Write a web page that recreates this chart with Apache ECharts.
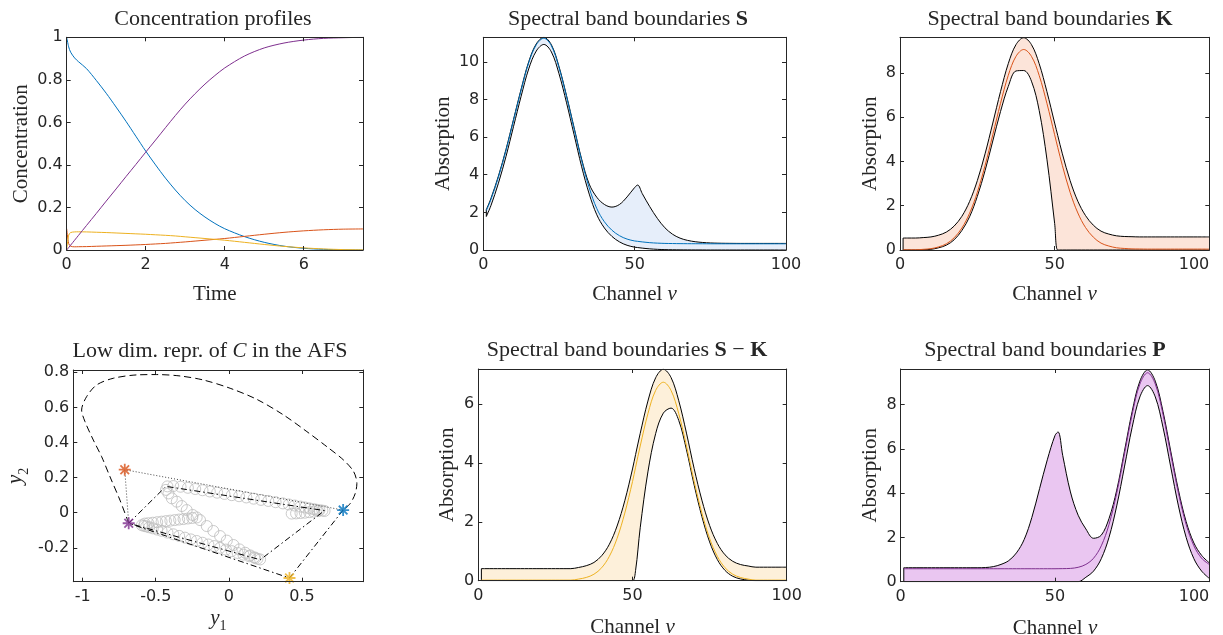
<!DOCTYPE html>
<html><head><meta charset="utf-8">
<script src="https://cdn.jsdelivr.net/npm/echarts@6/dist/echarts.min.js"></script>
<style>html,body{margin:0;padding:0;background:#fff}#c{width:1223px;height:635px}</style>
</head><body><div id="c"></div>
<script>
// ---------- Concentration profiles ----------
const timeT = [0, 0.05, 0.1, 0.2, 0.3, 0.5, 0.75, 1, 1.25, 1.5, 1.75, 2, 2.25, 2.5, 2.75, 3, 3.25, 3.5, 3.75, 4, 4.5, 5, 5.5, 6, 6.5, 7, 7.5];
const concS  = [1, 0.955, 0.93, 0.903, 0.885, 0.853, 0.797, 0.737, 0.672, 0.605, 0.535, 0.465, 0.4, 0.338, 0.282, 0.232, 0.19, 0.155, 0.125, 0.1, 0.063, 0.036, 0.018, 0.008, 0.003, 0.001, 0];
const concK  = [0.1, 0.03, 0.018, 0.015, 0.0155, 0.016, 0.0175, 0.019, 0.0205, 0.022, 0.024, 0.026, 0.0285, 0.031, 0.0345, 0.038, 0.042, 0.046, 0.05, 0.054, 0.064, 0.074, 0.083, 0.09, 0.095, 0.098, 0.099];
const concSK = [0, 0.07, 0.082, 0.085, 0.0855, 0.085, 0.0835, 0.082, 0.08, 0.078, 0.076, 0.074, 0.0715, 0.069, 0.066, 0.062, 0.058, 0.054, 0.05, 0.046, 0.036, 0.026, 0.017, 0.01, 0.005, 0.002, 0.001];
const concP  = [0, 0.0115, 0.023, 0.046, 0.069, 0.115, 0.172, 0.23, 0.287, 0.345, 0.402, 0.46, 0.517, 0.575, 0.632, 0.686, 0.735, 0.78, 0.82, 0.856, 0.912, 0.95, 0.973, 0.987, 0.995, 0.998, 1.0];

// ---------- Spectral bands ----------
const channel = [1, 2.5, 5, 7.5, 10, 12.5, 15, 17.5, 20, 22.5, 25, 27.5, 30, 32.5, 35, 37.5, 40, 42.5, 45, 47.5, 50, 51, 52.5, 55, 57.5, 60, 62.5, 65, 67.5, 70, 72.5, 75, 77.5, 80, 82.5, 85, 87.5, 90, 92.5, 95, 97.5, 100];

const sLow = [1.78, 2.35, 3.55, 4.97, 6.57, 8.17, 9.62, 10.57, 10.92, 10.52, 9.37, 7.82, 6.12, 4.42, 2.97, 1.87, 1.17, 0.72, 0.43, 0.25, 0.15, 0.13, 0.1, 0.06, 0.035, 0.02, 0.013, 0.008, 0.005, 0.003, 0.002, 0, 0, 0, 0, 0, 0, 0, 0, 0, 0, 0];
const sMid = [2.1, 2.68, 3.88, 5.3, 6.9, 8.5, 9.95, 10.9, 11.25, 10.85, 9.7, 8.15, 6.45, 4.75, 3.3, 2.2, 1.5, 1.05, 0.76, 0.58, 0.48, 0.46, 0.43, 0.39, 0.365, 0.35, 0.343, 0.338, 0.335, 0.333, 0.332, 0.33, 0.33, 0.33, 0.33, 0.33, 0.33, 0.33, 0.33, 0.33, 0.33, 0.33];
const sUp  = [2.15, 2.73, 3.93, 5.35, 6.95, 8.55, 10.0, 10.95, 11.3, 10.9, 9.75, 8.2, 6.5, 4.82, 3.5, 2.8, 2.42, 2.28, 2.42, 2.82, 3.32, 3.45, 3.0, 2.3, 1.68, 1.18, 0.84, 0.63, 0.51, 0.44, 0.4, 0.375, 0.362, 0.356, 0.352, 0.35, 0.35, 0.35, 0.35, 0.35, 0.35, 0.35];

const kLow = [0, 0, 0, 0.01, 0.03, 0.1, 0.22, 0.46, 0.88, 1.5, 2.42, 3.58, 4.92, 6.25, 7.38, 8.08, 8.1, 7.62, 6.3, 4.1, 1.2, 0, 0, 0, 0, 0, 0, 0, 0, 0, 0, 0, 0, 0, 0, 0, 0, 0, 0, 0, 0, 0];
const kMid = [0.01, 0.01, 0.01, 0.03, 0.06, 0.14, 0.28, 0.55, 0.99, 1.66, 2.6, 3.81, 5.2, 6.62, 7.88, 8.74, 9.05, 8.74, 7.88, 6.62, 5.2, 4.63, 3.81, 2.6, 1.67, 1.01, 0.58, 0.31, 0.18, 0.1, 0.07, 0.05, 0.045, 0.04, 0.04, 0.04, 0.04, 0.04, 0.04, 0.04, 0.04, 0.04];
const kUp  = [0.54, 0.54, 0.54, 0.56, 0.59, 0.67, 0.81, 1.08, 1.52, 2.19, 3.13, 4.34, 5.73, 7.15, 8.41, 9.27, 9.58, 9.27, 8.41, 7.15, 5.73, 5.17, 4.34, 3.13, 2.2, 1.55, 1.12, 0.85, 0.72, 0.64, 0.61, 0.6, 0.59, 0.59, 0.59, 0.59, 0.59, 0.59, 0.59, 0.59, 0.59, 0.59];

const skLow = [0, 0, 0, 0, 0, 0, 0, 0, 0, 0, 0, 0, 0, 0, 0, 0, 0, 0, 0, 0, 0, 0.35, 1.8, 3.7, 5.0, 5.7, 5.87, 5.45, 4.45, 3.25, 2.18, 1.32, 0.72, 0.35, 0.15, 0.06, 0.02, 0, 0, 0, 0, 0];
const skMid = [0.02, 0.02, 0.02, 0.02, 0.02, 0.02, 0.02, 0.02, 0.02, 0.02, 0.02, 0.02, 0.02, 0.055, 0.11, 0.22, 0.44, 0.83, 1.44, 2.3, 3.37, 3.86, 4.58, 5.68, 6.47, 6.75, 6.47, 5.68, 4.58, 3.37, 2.3, 1.44, 0.83, 0.44, 0.22, 0.11, 0.055, 0.02, 0.02, 0.02, 0.02, 0.02];
const skUp  = [0.41, 0.41, 0.41, 0.41, 0.41, 0.41, 0.41, 0.41, 0.41, 0.41, 0.41, 0.41, 0.41, 0.45, 0.51, 0.62, 0.85, 1.24, 1.86, 2.72, 3.8, 4.29, 5.01, 6.11, 6.9, 7.19, 6.91, 6.12, 5.02, 3.81, 2.74, 1.88, 1.27, 0.88, 0.66, 0.55, 0.5, 0.46, 0.46, 0.46, 0.46, 0.46];

const pLow = [0, 0, 0, 0, 0, 0, 0, 0, 0, 0, 0, 0, 0, 0, 0, 0, 0, 0, 0, 0, 0, 0, 0, 0, 0, 0.2, 0.48, 1.04, 2.0, 3.42, 5.18, 6.97, 8.34, 8.85, 8.34, 6.97, 5.18, 3.42, 2.0, 1.04, 0.48, 0.15];
const pMid = [0.585, 0.585, 0.585, 0.585, 0.585, 0.585, 0.585, 0.585, 0.585, 0.585, 0.585, 0.585, 0.585, 0.585, 0.585, 0.585, 0.585, 0.585, 0.585, 0.585, 0.585, 0.587, 0.59, 0.6, 0.65, 0.78, 1.06, 1.62, 2.58, 4.0, 5.76, 7.55, 8.92, 9.43, 8.92, 7.55, 5.76, 4.0, 2.58, 1.62, 1.06, 0.78];
const pUp  = [0.63, 0.63, 0.63, 0.63, 0.63, 0.63, 0.63, 0.63, 0.63, 0.63, 0.63, 0.64, 0.68, 0.78, 0.95, 1.3, 1.9, 2.9, 4.2, 5.5, 6.6, 6.76, 5.7, 4.05, 3.0, 2.38, 1.96, 2.1, 2.85, 4.13, 5.89, 7.68, 9.05, 9.56, 9.05, 7.68, 5.89, 4.13, 2.71, 1.75, 1.19, 0.85];

// ---------- AFS (low dimensional representation) ----------
const afsBoundY1 = [-0.685, -0.745, -0.813, -0.87, -0.927, -0.984, -1.007, -0.973, -0.904, -0.79, -0.63, -0.494, -0.334, -0.174, 0.009, 0.191, 0.374, 0.534, 0.671, 0.785, 0.854, 0.876, 0.865, 0.831, 0.782];
const afsBoundY2 = [-0.06, 0.072, 0.205, 0.319, 0.414, 0.519, 0.585, 0.661, 0.728, 0.766, 0.785, 0.787, 0.779, 0.756, 0.709, 0.646, 0.557, 0.462, 0.376, 0.3, 0.234, 0.167, 0.11, 0.053, 0.015];
const afsOuterY1 = [0.782, 0.415, -0.685];
const afsOuterY2 = [0.015, -0.372, -0.06];
const afsInnerY1 = [-0.685, -0.43, 0.655, 0.215, -0.685];
const afsInnerY2 = [-0.06, 0.15, 0.012, -0.268, -0.06];
const afsDotY1 = [0.782, -0.712, -0.685];
const afsDotY2 = [0.015, 0.245, -0.06];
const starY1 = [0.782, -0.712, 0.415, -0.685];
const starY2 = [0.015, 0.245, -0.372, -0.06];
const starColors = ['#0072BD', '#D95319', '#EDB120', '#7E2F8E'];
const circY1 = [
  -0.42,-0.38,-0.33,-0.28,-0.23,-0.18,-0.13,-0.08,-0.03,0.02,0.07,0.12,0.17,0.22,0.27,0.32,0.37,0.41,0.45,0.49,0.52,0.55,0.58,0.6,0.62,0.64,0.655,
  0.43,0.46,0.49,0.52,0.55,0.58,0.61,
  -0.43,-0.413,-0.39,-0.356,-0.322,-0.288,-0.247,-0.197,-0.151,-0.106,-0.06,-0.014,0.032,0.073,0.112,0.146,0.173,0.196,0.214,
  0.18,0.14,0.1,0.06,0.02,-0.02,-0.06,-0.1,-0.14,-0.18,-0.22,-0.26,-0.3,-0.34,-0.38,-0.42,-0.46,-0.49,-0.52,-0.545,-0.565,-0.58,-0.595,
  -0.575,-0.55,-0.52,-0.49,-0.46,-0.43,-0.4,-0.37,-0.34,-0.31,-0.28,-0.25,-0.22];
const circY2 = [
  0.15,0.152,0.148,0.142,0.135,0.128,0.121,0.114,0.107,0.1,0.094,0.087,0.08,0.073,0.067,0.06,0.053,0.047,0.041,0.035,0.03,0.025,0.02,0.017,0.014,0.012,0.01,
  -0.005,-0.004,-0.002,0,0.003,0.006,0.009,
  0.13,0.11,0.082,0.063,0.038,0.015,-0.013,-0.042,-0.076,-0.104,-0.133,-0.159,-0.184,-0.209,-0.228,-0.243,-0.254,-0.262,-0.266,
  -0.258,-0.248,-0.239,-0.229,-0.219,-0.21,-0.2,-0.19,-0.181,-0.171,-0.161,-0.152,-0.142,-0.132,-0.123,-0.113,-0.103,-0.096,-0.089,-0.083,-0.078,-0.075,-0.071,
  -0.062,-0.06,-0.057,-0.054,-0.051,-0.048,-0.045,-0.042,-0.039,-0.036,-0.033,-0.03,-0.027];

// ---------- ticks ----------
const ticksTime = [0, 2, 4, 6];
const ticksConc = [0, 0.2, 0.4, 0.6, 0.8, 1];
const ticksChan = [0, 50, 100];
const ticksAbsS = [0, 2, 4, 6, 8, 10];
const ticksAbsK = [0, 2, 4, 6, 8];
const ticksAbsSK = [0, 2, 4, 6];
const ticksY1 = [-1, -0.5, 0, 0.5];
const ticksY2 = [-0.2, 0, 0.2, 0.4, 0.6, 0.8];

// ---------- build ----------
const SANS = 'DejaVu Sans, Liberation Sans, Arial, sans-serif';
const SERIF = 'Liberation Serif, Times New Roman, serif';
const AX = '#262626';
const SM = 0.35;
const richSet = {
  i: {fontFamily: SERIF, fontSize: 21, fontStyle: 'italic', color: AX},
  b: {fontFamily: SERIF, fontSize: 22, fontWeight: 'bold', color: AX},
  ii: {fontFamily: SERIF, fontSize: 21, fontStyle: 'italic', color: AX, padding: [0, 0, 5, 0]},
  s: {fontFamily: SERIF, fontSize: 14, color: AX, verticalAlign: 'bottom'}
};

const grids = [
  {left: 66.7, top: 37.3, width: 296.3, height: 212.7},
  {left: 483.3, top: 37.3, width: 302.7, height: 212.7},
  {left: 900, top: 37.3, width: 309.3, height: 212.7},
  {left: 73.3, top: 370, width: 290, height: 211.7},
  {left: 478.3, top: 369, width: 308.4, height: 211.7},
  {left: 900.7, top: 369, width: 308.6, height: 212.7}
].map(g => Object.assign(g, {outerBoundsMode: 'none', containLabel: false}));

const xAxes = [], yAxes = [];
function addAxes(gi, xmin, xmax, xt, ymin, ymax, yt, xname, xgap, yname, ygap, rightEdge) {
  const common = {
    type: 'value', gridIndex: gi, z: 10,
    axisLine: {show: true, onZero: false, lineStyle: {color: AX, width: 1}},
    splitLine: {show: false}
  };
  const lbl = (t, m) => ({show: true, customValues: t, color: AX, fontFamily: SANS, fontSize: 16, margin: m});
  const tk = (t) => ({show: true, inside: true, length: 4, customValues: t, lineStyle: {color: AX, width: 1}});
  const nts = {fontFamily: SERIF, fontSize: 21, color: AX, rich: richSet};
  const xl = lbl(xt, 7);
  if (rightEdge) xl.alignMaxLabel = 'right';
  xAxes.push(Object.assign({}, common, {position: 'bottom', min: xmin, max: xmax, axisTick: tk(xt), axisLabel: xl,
    name: xname, nameLocation: 'middle', nameGap: xgap, nameTextStyle: nts}));
  xAxes.push(Object.assign({}, common, {position: 'top', min: xmin, max: xmax, axisTick: tk(xt), axisLabel: {show: false}}));
  yAxes.push(Object.assign({}, common, {position: 'left', min: ymin, max: ymax, axisTick: tk(yt), axisLabel: lbl(yt, 4),
    name: yname, nameLocation: 'middle', nameGap: ygap, nameTextStyle: nts}));
  yAxes.push(Object.assign({}, common, {position: 'right', min: ymin, max: ymax, axisTick: tk(yt), axisLabel: {show: false}}));
}

addAxes(0, 0, 7.5, ticksTime, 0, 1, ticksConc, 'Time', 34, 'Concentration', 35);
addAxes(1, 0, 100, ticksChan, 0, 11.3, ticksAbsS, 'Channel {i|ν}', 34, 'Absorption', 29);
addAxes(2, 0, 100, ticksChan, 0, 9.6, ticksAbsK, 'Channel {i|ν}', 34, 'Absorption', 19, true);
addAxes(3, -1.064, 0.92, ticksY1, -0.393, 0.813, ticksY2, '{ii|y}{s|1}', 26, '{ii|y}{s|2}', 42);
addAxes(4, 0, 100, ticksChan, 0, 7.2, ticksAbsSK, 'Channel {i|ν}', 36, 'Absorption', 20);
addAxes(5, 0, 100, ticksChan, 0, 9.6, ticksAbsK, 'Channel {i|ν}', 36, 'Absorption', 20, true);

const series = [];
function zip(xs, ys) { return xs.map((x, i) => [x, ys[i]]); }
function lineS(gi, data, color, extra) {
  return Object.assign({type: 'line', xAxisIndex: 2 * gi, yAxisIndex: 2 * gi, data: data, symbol: 'none',
    lineStyle: {color: color, width: 1}, silent: true}, extra || {});
}

// concentration profiles
[[concS, '#0072BD'], [concK, '#D95319'], [concSK, '#EDB120'], [concP, '#7E2F8E']].forEach(([arr, c]) => {
  series.push(lineS(0, zip(timeT, arr), c, {smooth: 0.3, z: 3}));
});

// band = filled area under the upper bound, masked in white under the lower bound
function band(gi, lo, mid, up, fill, midColor) {
  const noLine = {width: 0, opacity: 0};
  series.push(lineS(gi, zip(channel, up), fill, {smooth: SM, z: 2, lineStyle: noLine,
    areaStyle: {color: fill, opacity: 1, origin: 'start'}}));
  series.push(lineS(gi, zip(channel, lo), '#fff', {smooth: SM, z: 3, lineStyle: noLine,
    areaStyle: {color: '#fff', opacity: 1, origin: 'start'}}));
  series.push(lineS(gi, zip(channel, lo), '#000', {smooth: SM, z: 4}));
  series.push(lineS(gi, zip(channel, up), '#000', {smooth: SM, z: 4}));
  series.push(lineS(gi, zip(channel, mid), midColor, {smooth: SM, z: 5}));
  series.push(lineS(gi, [[channel[0], lo[0]], [channel[0], up[0]]], '#000', {z: 4}));
}
band(1, sLow, sMid, sUp, '#E6EEFA', '#0072BD');
band(2, kLow, kMid, kUp, '#FCE4D9', '#D95319');
band(4, skLow, skMid, skUp, '#FDF0DA', '#EDB120');
band(5, pLow, pMid, pUp, '#EAC6F1', '#7E2F8E');

// AFS plot
series.push({type: 'scatter', xAxisIndex: 6, yAxisIndex: 6, data: zip(circY1, circY2), symbol: 'circle', symbolSize: 11,
  itemStyle: {color: 'rgba(0,0,0,0)', borderColor: '#bdbdbd', borderWidth: 1}, z: 2, silent: true});
series.push(lineS(3, zip(afsBoundY1, afsBoundY2), '#000', {smooth: 0.3, z: 4, lineStyle: {color: '#000', width: 1, type: [7, 4]}}));
series.push(lineS(3, zip(afsOuterY1, afsOuterY2), '#000', {z: 4, lineStyle: {color: '#000', width: 1, type: [6, 3, 1.5, 3]}}));
series.push(lineS(3, zip(afsInnerY1, afsInnerY2), '#000', {z: 4, lineStyle: {color: '#000', width: 1, type: [6, 3, 1.5, 3]}}));
series.push(lineS(3, zip(afsDotY1, afsDotY2), '#444', {z: 4, lineStyle: {color: '#444', width: 1, type: [1, 2]}}));
const STAR = 'path://M0,-5L0,5M-5,0L5,0M-3.6,-3.6L3.6,3.6M-3.6,3.6L3.6,-3.6';
series.push({type: 'scatter', xAxisIndex: 6, yAxisIndex: 6, symbol: STAR, symbolSize: 12, z: 6, silent: true,
  data: starY1.map((x, i) => ({value: [x, starY2[i]], itemStyle: {color: starColors[i], borderColor: starColors[i], borderWidth: 1.8}}))});

const titleStyle = {fontFamily: SERIF, fontSize: 22, fontWeight: 'normal', color: AX, rich: richSet};
const titles = [
  ['Concentration profiles', 213, 8],
  ['Spectral band boundaries {b|S}', 628, 8],
  ['Spectral band boundaries {b|K}', 1050, 8],
  ['Low dim. repr. of {i|C} in the AFS', 210, 340],
  ['Spectral band boundaries {b|S} − {b|K}', 627, 339],
  ['Spectral band boundaries {b|P}', 1045, 339]
].map(([t, x, y]) => ({text: t, left: x, top: y, textAlign: 'center', padding: 0, textStyle: titleStyle}));

const chart = echarts.init(document.getElementById('c'), null, {renderer: 'canvas'});
chart.setOption({
  animation: false,
  backgroundColor: '#fff',
  title: titles,
  grid: grids,
  xAxis: xAxes,
  yAxis: yAxes,
  series: series
});
</script>
</body></html>
